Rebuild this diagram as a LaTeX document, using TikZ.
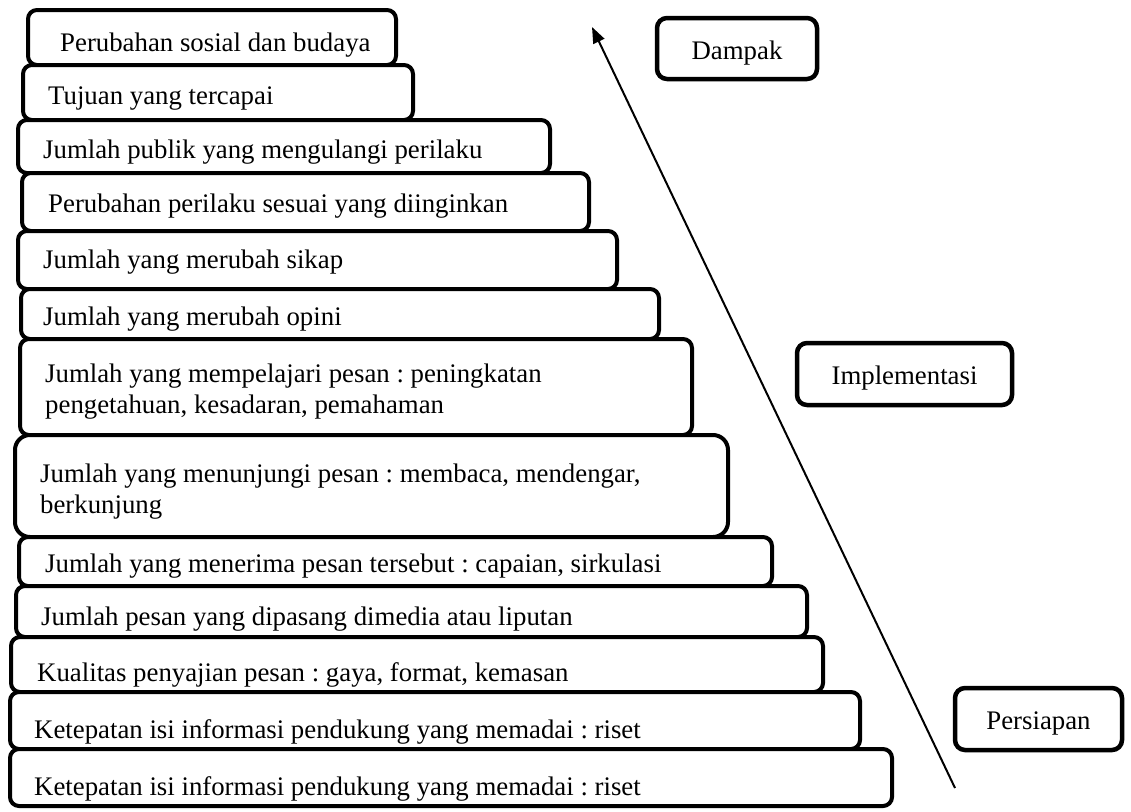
\documentclass[tikz,border=0pt]{standalone}
\usepackage{fontspec}
\setmainfont{Liberation Serif}
\frenchspacing
\usetikzlibrary{arrows.meta}
\begin{document}
\begin{tikzpicture}[x=1pt,y=-1pt,
  stair/.style={draw=black, line width=4pt, fill=white, rounded corners=9pt},
  side/.style={draw=black, line width=4.5pt, fill=white, rounded corners=10pt,
     font=\fontsize{26.8}{30.5}\selectfont, inner sep=0pt, text height=21pt, text depth=0pt},
  txt/.style={anchor=base west, inner sep=0pt, font=\fontsize{26.8}{30.5}\selectfont}
]
\useasboundingbox (0,0) rectangle (1131,811);
% staircase, drawn top to bottom
\draw[stair] (28,10) rectangle (396,65);   \node[txt] (t1) at (60,51) {Perubahan sosial dan budaya};
\draw[stair] (23,65) rectangle (413,120);  \node[txt] (t2) at (48,104) {Tujuan yang tercapai};
\draw[stair] (18,120) rectangle (550,173); \node[txt] (t3) at (43,158) {Jumlah publik yang mengulangi perilaku};
\draw[stair] (22,173) rectangle (589,231); \node[txt] (t4) at (48,212) {Perubahan perilaku sesuai yang diinginkan};
\draw[stair] (18,231) rectangle (617,289); \node[txt] (t5) at (43,268) {Jumlah yang merubah sikap};
\draw[stair] (21,289) rectangle (659,339); \node[txt] (t6) at (43,325) {Jumlah yang merubah opini};
\draw[stair] (20,339) rectangle (692,435); \node[txt] (t7a) at (45,382) {Jumlah yang mempelajari pesan : peningkatan};
                                           \node[txt] (t7b) at (45,413) {pengetahuan, kesadaran, pemahaman};
\draw[stair, rounded corners=15pt] (15,435) rectangle (728,537);
                                           \node[txt] (t8a) at (40,482) {Jumlah yang menunjungi pesan : membaca, mendengar,};
                                           \node[txt] (t8b) at (40,513) {berkunjung};
\draw[stair] (19,537) rectangle (772,586); \node[txt] (t9) at (45,572) {Jumlah yang menerima pesan tersebut : capaian, sirkulasi};
\draw[stair] (16,586) rectangle (807,637); \node[txt] (t10) at (41,625) {Jumlah pesan yang dipasang dimedia atau liputan};
\draw[stair] (11,637) rectangle (823,692); \node[txt] (t11) at (37,681) {Kualitas penyajian pesan : gaya, format, kemasan};
\draw[stair] (10,692) rectangle (860,749); \node[txt] (t12) at (34,738) {Ketepatan isi informasi pendukung yang memadai : riset};
\draw[stair] (10,749) rectangle (892,806); \node[txt] (t13) at (34,795) {Ketepatan isi informasi pendukung yang memadai : riset};
% side labels
\node[side, minimum width=160pt, minimum height=61pt] (dampak) at (737,48.5) {Dampak};
\node[side, minimum width=215pt, minimum height=62pt] (impl) at (904.5,374) {Implementasi};
\node[side, minimum width=167pt, minimum height=62pt] (pers) at (1038.5,719) {Persiapan};
% arrow
\coordinate (abot) at (955,788);
\coordinate (atop) at (592,27);
\draw[line width=2pt, -{Triangle[length=16pt,width=12pt]}] (abot) -- (atop);
\end{tikzpicture}
\end{document}
